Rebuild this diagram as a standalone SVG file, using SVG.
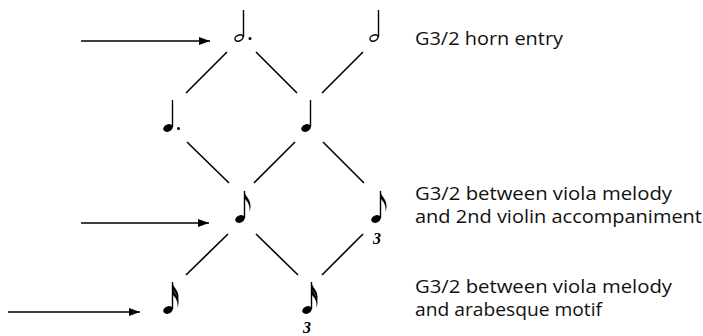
<svg xmlns="http://www.w3.org/2000/svg" xmlns:xlink="http://www.w3.org/1999/xlink" width="703" height="336" viewBox="0 0 703 336">
<style>
.conn{stroke:#000;stroke-width:1.6;fill:none}
.arrow{stroke:#000;stroke-width:1.6;fill:none;marker-end:url(#ah)}
.stem{stroke:#000;stroke-width:1.4}
.lbl{font-family:"Open Sans",Lato,sans-serif;font-size:18px;fill:#111}
.trip{font-family:"Liberation Serif",serif;font-style:italic;font-weight:bold;font-size:16px;fill:#000}
</style>
<defs>
<marker id="ah" viewBox="0 0 11 8" refX="11" refY="4" markerWidth="11" markerHeight="8" markerUnits="userSpaceOnUse" orient="auto">
<path d="M0,0 L11,4 L0,8 Z" fill="#000"/>
</marker>
<ellipse id="hf" rx="5" ry="3.6" transform="rotate(-25)" fill="#000"/>
<ellipse id="hh" rx="4.3" ry="2.8" transform="rotate(-25)" fill="#fff" stroke="#000" stroke-width="1.4"/>
<line id="st" x1="4.5" y1="-1" x2="4.5" y2="-28" class="stem"/>
<path id="fl" d="M4,-28 C5,-23 11,-20 10.5,-12 C10.3,-10 10,-8.5 9.3,-7 C10.5,-13 8,-17 4,-21 Z" fill="#000"/>
</defs>
<g id="connectors">
<line class="arrow" x1="81" y1="41" x2="210" y2="41"/>
<line class="arrow" x1="81" y1="223" x2="209" y2="223"/>
<line class="arrow" x1="8" y1="312" x2="140" y2="312"/>
<line class="conn" x1="227" y1="52" x2="186" y2="93"/>
<line class="conn" x1="256" y1="52" x2="297" y2="93"/>
<line class="conn" x1="363" y1="52" x2="322" y2="93"/>
<line class="conn" x1="187" y1="142" x2="229" y2="183"/>
<line class="conn" x1="295" y1="142" x2="254" y2="183"/>
<line class="conn" x1="323" y1="142" x2="364" y2="183"/>
<line class="conn" x1="228" y1="234" x2="186" y2="275"/>
<line class="conn" x1="256" y1="234" x2="298" y2="275"/>
<line class="conn" x1="363" y1="234" x2="322" y2="275"/>
</g>
<g id="n-dotted-half" transform="translate(239,38)">
<use xlink:href="#st"/><use xlink:href="#hh"/><circle cx="11" cy="0.5" r="1.5"/>
</g>
<g id="n-half" transform="translate(374,38)">
<use xlink:href="#st"/><use xlink:href="#hh"/>
</g>
<g id="n-dotted-quarter" transform="translate(168,128)">
<use xlink:href="#st"/><use xlink:href="#hf"/><circle cx="10.5" cy="0.5" r="1.5"/>
</g>
<g id="n-quarter" transform="translate(306,128)">
<use xlink:href="#st"/><use xlink:href="#hf"/>
</g>
<g id="n-eighth" transform="translate(240,219)">
<use xlink:href="#st"/><use xlink:href="#hf"/><use xlink:href="#fl"/>
</g>
<g id="n-eighth-triplet" transform="translate(376,219)">
<use xlink:href="#st"/><use xlink:href="#hf"/><use xlink:href="#fl"/>
<text class="trip" x="1" y="25" text-anchor="middle">3</text>
</g>
<g id="n-sixteenth" transform="translate(168,310)">
<use xlink:href="#st"/><use xlink:href="#hf"/><use xlink:href="#fl"/><use xlink:href="#fl" transform="translate(0,5)"/>
</g>
<g id="n-sixteenth-triplet" transform="translate(307,310)">
<use xlink:href="#st"/><use xlink:href="#hf"/><use xlink:href="#fl"/><use xlink:href="#fl" transform="translate(0,5)"/>
<text class="trip" x="0" y="23" text-anchor="middle">3</text>
</g>
<g id="label-horn">
<text class="lbl" x="415" y="45" textLength="148" lengthAdjust="spacingAndGlyphs">G3/2 horn entry</text>
</g>
<g id="label-violin">
<text class="lbl" x="415" y="200" textLength="257" lengthAdjust="spacingAndGlyphs">G3/2 between viola melody</text>
<text class="lbl" x="415" y="223" textLength="287" lengthAdjust="spacingAndGlyphs">and 2nd violin accompaniment</text>
</g>
<g id="label-arabesque">
<text class="lbl" x="415" y="293" textLength="257" lengthAdjust="spacingAndGlyphs">G3/2 between viola melody</text>
<text class="lbl" x="415" y="316" textLength="187" lengthAdjust="spacingAndGlyphs">and arabesque motif</text>
</g>
</svg>
